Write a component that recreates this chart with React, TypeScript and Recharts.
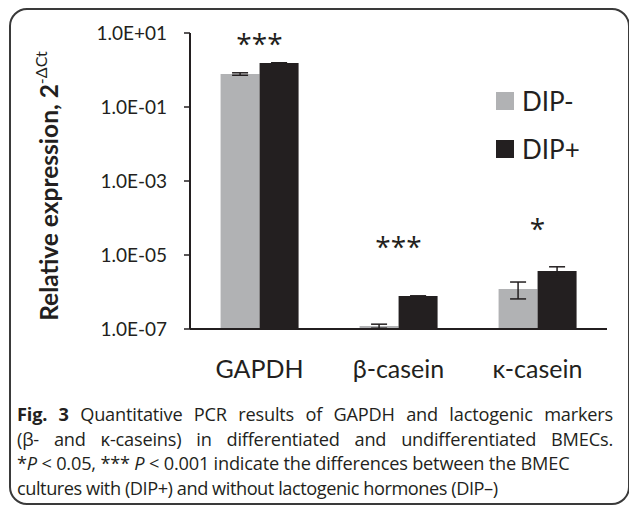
import { ComposedChart, Bar, Line, XAxis, YAxis, ErrorBar, Legend, LabelList } from 'recharts';

const categories = ['GAPDH', 'β-casein', 'κ-casein'];
const seriesNames = ['DIP-', 'DIP+'];
const dipMinus = [0.78, 1.2e-7, 1.2e-6];
const dipMinusErr = [[0.06, 0.06], [0.15e-7, 0.15e-7], [0.55e-6, 0.66e-6]];
const dipPlus = [1.55, 7.8e-7, 3.7e-6];
const dipPlusErr = [[0.02, 0.02], [0.02e-7, 0.02e-7], [1.1e-6, 1.1e-6]];
const sigMarks = ['***', '***', '*'];
const sigPos = [6.5, 2.1e-5, 6.5e-5];
const yTicks = [1e-7, 1e-5, 1e-3, 1e-1, 10];
const boundaryTicks = [0, 1, 2, 3];

const data = categories.map((name, i) => ({
  name,
  minus: dipMinus[i],
  minusErr: dipMinusErr[i],
  plus: dipPlus[i],
  plusErr: dipPlusErr[i],
  sig: sigMarks[i],
  sigY: sigPos[i],
}));

const GRAY = '#b1b2b4';
const BLACK = '#231f20';
const FONT = 'Lato, "Open Sans", sans-serif';

const fmtExp = (v: number) => {
  const e = Math.round(Math.log10(v));
  return `1.0E${e < 0 ? '-' : '+'}${String(Math.abs(e)).padStart(2, '0')}`;
};

const YLabel = () => (
  <text
    transform="translate(58,186) rotate(-90)"
    textAnchor="middle"
    fontFamily={FONT}
    fontWeight={700}
    fontSize={24.5}
    fill={BLACK}
  >
    Relative expression, 2
    <tspan fontSize={16} fontWeight={400} dy={-11}>-ΔCt</tspan>
  </text>
);

const SigLabel = (props: any) => {
  const { x, y, value } = props;
  return (
    <text x={x} y={y} dy={14} textAnchor="middle" fontFamily='"Open Sans", sans-serif' fontSize={28} fill={BLACK}>
      {value}
    </text>
  );
};

const LegendBox = (props: any) => {
  const items = (props.payload || []).filter((p: any) => p.type !== 'none');
  const ordered = seriesNames.map((n) => items.find((p: any) => p.value === n)).filter(Boolean);
  return (
    <div style={{ fontFamily: FONT, fontSize: 26, color: BLACK }}>
      {ordered.map((p: any) => (
        <div key={p.value} style={{ display: 'flex', alignItems: 'center', height: 28, marginBottom: 20 }}>
          <span style={{ width: 18, height: 18, background: p.color, display: 'inline-block', marginRight: 8 }} />
          <span>{p.value}</span>
        </div>
      ))}
    </div>
  );
};

export default function App() {
  return (
    <div style={{ position: 'absolute', left: 0, top: 0, width: 629, height: 509, background: '#fff', overflow: 'hidden' }}>
      <div
        style={{
          position: 'absolute',
          left: 9,
          top: 8,
          width: 621,
          height: 497,
          border: '2px solid #3a3a3a',
          borderRadius: 18,
          boxSizing: 'border-box',
        }}
      />
      <div style={{ position: 'absolute', left: 0, top: 0 }}>
        <ComposedChart
          width={629}
          height={400}
          data={data}
          margin={{ top: 33, right: 22, bottom: 21, left: 0 }}
          barCategoryGap="22%"
          barGap={0}
        >
          <XAxis
            xAxisId="bounds"
            type="number"
            domain={[0, 3]}
            ticks={boundaryTicks}
            allowDataOverflow
            tick={false}
            tickSize={8}
            height={10}
            axisLine={{ stroke: BLACK, strokeWidth: 2 }}
            tickLine={{ stroke: BLACK, strokeWidth: 1.5 }}
          />
          <XAxis
            xAxisId="cat"
            dataKey="name"
            axisLine={false}
            tickLine={false}
            tickSize={0}
            tickMargin={21}
            height={40}
            tick={{ fontFamily: FONT, fontSize: 25, fill: BLACK }}
          />
          <YAxis
            scale="log"
            type="number"
            domain={[1e-7, 10]}
            ticks={yTicks}
            allowDataOverflow
            tickFormatter={fmtExp}
            width={190}
            tickSize={6}
            tickMargin={17}
            tick={{ fontFamily: FONT, fontSize: 19, fill: BLACK }}
            axisLine={{ stroke: BLACK, strokeWidth: 2 }}
            tickLine={{ stroke: BLACK, strokeWidth: 1.5 }}
            label={<YLabel />}
          />
          <Legend
            layout="vertical"
            align="center"
            verticalAlign="middle"
            content={<LegendBox />}
            wrapperStyle={{ position: 'absolute', left: 496, top: 87, width: 120 }}
          />
          <Bar xAxisId="cat" dataKey="minus" name="DIP-" fill={GRAY} isAnimationActive={false}>
            <ErrorBar dataKey="minusErr" width={8} stroke={BLACK} strokeWidth={1.5} />
          </Bar>
          <Bar xAxisId="cat" dataKey="plus" name="DIP+" fill={BLACK} isAnimationActive={false}>
            <ErrorBar dataKey="plusErr" width={8} stroke={BLACK} strokeWidth={1.5} />
          </Bar>
          <Line
            xAxisId="cat"
            dataKey="sigY"
            stroke="none"
            dot={false}
            activeDot={false}
            legendType="none"
            isAnimationActive={false}
          >
            <LabelList dataKey="sig" content={<SigLabel />} />
          </Line>
        </ComposedChart>
      </div>
      <div
        style={{
          position: 'absolute',
          left: 17,
          top: 402,
          width: 596,
          fontFamily: '"Open Sans", sans-serif',
          fontSize: 18.2,
          lineHeight: '24.5px',
          color: '#231f20',
          letterSpacing: -0.2,
        }}
      >
        <div style={{ textAlign: 'justify', textAlignLast: 'justify', whiteSpace: 'nowrap' }}>
          <b>Fig. 3</b> Quantitative PCR results of GAPDH and lactogenic markers
        </div>
        <div style={{ textAlign: 'justify', textAlignLast: 'justify' }}>
          (β- and κ-caseins) in differentiated and undifferentiated BMECs.
        </div>
        <div style={{ whiteSpace: 'nowrap' }}>
          *<i>P</i> &lt; 0.05, *** <i>P</i> &lt; 0.001 indicate the differences between the BMEC
        </div>
        <div style={{ whiteSpace: 'nowrap', letterSpacing: -0.45 }}>cultures with (DIP+) and without lactogenic hormones (DIP–)</div>
      </div>
    </div>
  );
}
